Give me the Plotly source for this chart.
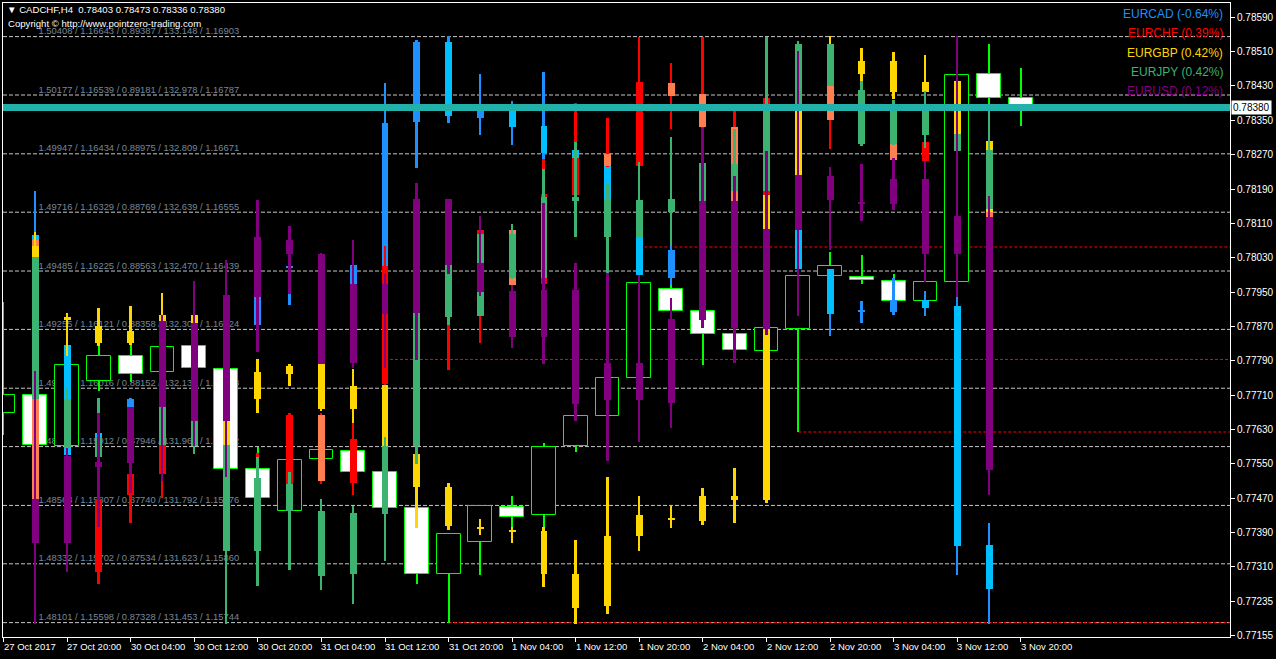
import numpy as np
import plotly.graph_objects as go

# ---------------- data ----------------
SYMBOL = "CADCHF,H4"
COPYRIGHT = "Copyright \u00a9 http://www.pointzero-trading.com"

BARS = list(range(33))  # H4 bars, 27 Oct 12:00 .. 3 Nov 20:00
TIME_LABEL_BARS = [0, 2, 4, 6, 8, 10, 12, 14, 16, 18, 20, 22, 24, 26, 28, 30, 32]
TIME_LABELS = ["27 Oct 2017", "27 Oct 20:00", "30 Oct 04:00", "30 Oct 12:00", "30 Oct 20:00",
               "31 Oct 04:00", "31 Oct 12:00", "31 Oct 20:00", "1 Nov 04:00", "1 Nov 12:00",
               "1 Nov 20:00", "2 Nov 04:00", "2 Nov 12:00", "2 Nov 20:00", "3 Nov 04:00",
               "3 Nov 12:00", "3 Nov 20:00"]

CADCHF_OPEN = [0.77669, 0.77711, 0.77591, 0.77743, 0.77802, 0.77763, 0.77825, 0.77771, 0.77538, 0.77440,
               0.77560, 0.77580, 0.77530, 0.77446, 0.77294, 0.77368, 0.77449, 0.77430, 0.77591, 0.77662,
               0.77750, 0.77956, 0.77907, 0.77852, 0.77813, 0.77864, 0.77987, 0.77984, 0.77976, 0.77929,
               0.77973, 0.78457, 0.78403]
CADCHF_HIGH = [0.77926, 0.77714, 0.77782, 0.77828, 0.77828, 0.77823, 0.77827, 0.77772, 0.77588, 0.77559,
               0.77584, 0.77581, 0.77531, 0.77448, 0.77387, 0.77452, 0.77474, 0.77598, 0.77663, 0.77751,
               0.77973, 0.77967, 0.77908, 0.77853, 0.77867, 0.77988, 0.78044, 0.78037, 0.77992, 0.77976,
               0.78456, 0.78528, 0.78473]
CADCHF_LOW = [0.77617, 0.77591, 0.77590, 0.77719, 0.77740, 0.77760, 0.77770, 0.77537, 0.77469, 0.77438,
              0.77558, 0.77530, 0.77445, 0.77270, 0.77180, 0.77291, 0.77394, 0.77402, 0.77577, 0.77660,
              0.77749, 0.77906, 0.77780, 0.77784, 0.77813, 0.77624, 0.77986, 0.77968, 0.77929, 0.77928,
              0.77972, 0.78379, 0.78336]
CADCHF_CLOSE = [0.77711, 0.77593, 0.77780, 0.77802, 0.77759, 0.77821, 0.77772, 0.77539, 0.77470, 0.77558,
                0.77581, 0.77532, 0.77446, 0.77294, 0.77386, 0.77451, 0.77427, 0.77588, 0.77662, 0.77750,
                0.77972, 0.77907, 0.77852, 0.77816, 0.77867, 0.77987, 0.78011, 0.77978, 0.77930, 0.77974,
                0.78455, 0.78402, 0.78380]

N = None
EURCAD_OPEN = [N, 1.49628, 1.49195, 1.48849, 1.48818, 1.49014, 1.48975, 1.49290, 1.49272, 1.49498, 1.49368,
               1.49368, 1.49505, 1.50070, 1.50387, 1.50088, 1.50139, 1.50058, 1.49962, 1.49919, 1.49620,
               1.49456, 1.49604, 1.49565, 1.50037, 1.49761, 1.49492, 1.49327, 1.49325, 1.49372, 1.49349,
               1.48405, N]
EURCAD_HIGH = [N, 1.49801, 1.49199, 1.48853, 1.48987, 1.49231, 1.49191, 1.49329, 1.49525, 1.49525, 1.49408,
               1.49510, 1.50227, 1.50395, 1.50411, 1.50259, 1.50154, 1.50267, 1.49966, 1.49938, 1.49643,
               1.49601, 1.49643, 1.49604, 1.50076, 1.49781, 1.49492, 1.49368, 1.49456, 1.49408, 1.49384,
               1.48494, N]
EURCAD_LOW = [N, 1.49290, 1.48755, 1.48771, 1.48798, 1.48995, 1.48955, 1.48936, 1.49272, 1.49353, 1.49172,
              1.49349, 1.49494, 1.49890, 1.50066, 1.50021, 1.49983, 1.49925, 1.49820, 1.49683, 1.49469,
              1.49429, 1.49408, 1.49329, 1.49840, 1.49492, 1.49229, 1.49280, 1.49312, 1.49309, 1.48288,
              1.48096, N]
EURCAD_CLOSE = [N, 1.49368, 1.48759, 1.48779, 1.48983, 1.49211, 1.49172, 1.48975, 1.49486, 1.49502, 1.49211,
                1.49508, 1.50066, 1.50387, 1.50094, 1.50139, 1.50053, 1.49949, 1.49840, 1.49702, 1.49469,
                1.49569, 1.49447, 1.49368, 1.49879, 1.49492, 1.49315, 1.49330, 1.49372, 1.49341, 1.48402,
                1.48234, N]

EURCHF_OPEN = [N, 1.16281, 1.15762, 1.15689, 1.15826, 1.15863, 1.15994, 1.15943, 1.15744, 1.15845, 1.15969,
               1.15847, 1.16023, 1.15958, 1.16154, 1.16172, 1.16298, 1.16201, 1.16361, 1.16434, 1.16413,
               1.16561, 1.16541, 1.16481, 1.16361, 1.16599, 1.16555, 1.16528, 1.16493, 1.16421, 1.16546,
               1.16439, N]
EURCHF_HIGH = [N, 1.16282, 1.15883, 1.15821, 1.15869, 1.15923, 1.16092, 1.15944, 1.15901, 1.15971, 1.15971,
               1.15954, 1.16270, 1.16136, 1.16229, 1.16298, 1.16298, 1.16424, 1.16525, 1.16498, 1.16642,
               1.16596, 1.16642, 1.16514, 1.16535, 1.16608, 1.16555, 1.16537, 1.16507, 1.16457, 1.16555,
               1.16448, N]
EURCHF_LOW = [N, 1.15816, 1.15688, 1.15667, 1.15776, 1.15821, 1.15985, 1.15762, 1.15735, 1.15834, 1.15845,
              1.15826, 1.16022, 1.15940, 1.16048, 1.16097, 1.16199, 1.16200, 1.16359, 1.16411, 1.16412,
              1.16479, 1.16480, 1.16348, 1.16359, 1.16421, 1.16443, 1.16460, 1.16421, 1.16420, 1.16448,
              1.16320, N]
EURCHF_CLOSE = [N, 1.15818, 1.15878, 1.15819, 1.15863, 1.15915, 1.16083, 1.15780, 1.15851, 1.15969, 1.15850,
                1.15925, 1.16234, 1.16118, 1.16225, 1.16298, 1.16200, 1.16362, 1.16427, 1.16412, 1.16562,
                1.16538, 1.16481, 1.16349, 1.16533, 1.16439, 1.16494, 1.16475, 1.16423, 1.16455, 1.16457,
                1.16321, N]

EURGBP_OPEN = [N, 0.88652, 0.88402, 0.88369, 0.88354, 0.88410, 0.88410, 0.88037, 0.88207, 0.88230, 0.88238,
               0.88161, 0.88163, 0.87919, 0.87667, 0.87662, 0.87652, 0.87500, 0.87379, 0.87386, 0.87633,
               0.87693, 0.87686, 0.87758, 0.87758, 0.88845, 0.89231, 0.89257, 0.89300, 0.89194, 0.89046,
               0.89020, N]
EURGBP_HIGH = [N, 0.88700, 0.88417, 0.88435, 0.88442, 0.88487, 0.88494, 0.88038, 0.88254, 0.88235, 0.88242,
               0.88218, 0.88164, 0.87919, 0.87819, 0.87691, 0.87665, 0.87665, 0.87619, 0.87839, 0.87772,
               0.87739, 0.87800, 0.87872, 0.88831, 0.89161, 0.89390, 0.89347, 0.89333, 0.89322, 0.89234,
               0.89024, N]
EURGBP_LOW = [N, 0.88319, 0.88266, 0.88301, 0.88305, 0.88319, 0.88319, 0.87828, 0.88063, 0.88159, 0.88070,
              0.88030, 0.87947, 0.87662, 0.87653, 0.87636, 0.87607, 0.87454, 0.87324, 0.87357, 0.87579,
              0.87660, 0.87672, 0.87679, 0.87747, 0.88838, 0.89224, 0.89232, 0.89168, 0.89189, 0.89020,
              0.88768, N]
EURGBP_CLOSE = [N, 0.88354, 0.88390, 0.88312, 0.88312, 0.88354, 0.88354, 0.87863, 0.88112, 0.88201, 0.88080,
                0.88080, 0.87950, 0.87805, 0.87805, 0.87658, 0.87648, 0.87650, 0.87500, 0.87631, 0.87705,
                0.87690, 0.87772, 0.87772, 0.88831, 0.89128, 0.89354, 0.89300, 0.89194, 0.89228, 0.89231,
                0.88770, N]

EURJPY_OPEN = [N, 132.511, 132.101, 131.991, 132.038, 132.078, 132.036, 131.968, 131.659, 131.854, 131.775,
               131.594, 131.768, 131.963, 132.337, 132.341, 132.576, 132.449, 132.684, 132.676, 132.569,
               132.679, 132.671, 132.779, 132.702, 132.935, 133.127, 132.993, 132.836, 132.939, 132.867,
               132.820, N]
EURJPY_HIGH = [N, 132.511, 132.133, 132.104, 132.052, 132.078, 132.037, 131.968, 131.931, 131.889, 131.812,
               131.791, 131.991, 132.349, 132.487, 132.576, 132.607, 132.765, 132.842, 132.722, 132.786,
               132.858, 132.782, 132.881, 133.147, 133.135, 133.127, 133.021, 132.965, 132.991, 132.867,
               132.942, N]
EURJPY_LOW = [N, 132.101, 131.960, 131.928, 131.937, 131.968, 131.942, 131.449, 131.559, 131.606, 131.547,
              131.506, 131.630, 131.913, 132.313, 132.341, 132.448, 132.448, 132.569, 132.463, 132.569,
              132.543, 132.671, 132.702, 132.702, 132.935, 133.005, 132.832, 132.835, 132.826, 132.818,
              132.650, N]
EURJPY_CLOSE = [N, 132.101, 131.960, 131.931, 131.951, 131.968, 131.965, 131.659, 131.871, 131.775, 131.588,
                131.769, 131.965, 132.349, 132.487, 132.576, 132.449, 132.684, 132.673, 132.569, 132.676,
                132.640, 132.782, 132.702, 132.935, 133.127, 133.005, 132.836, 132.939, 132.864, 132.818,
                132.650, N]

EURUSD_OPEN = [N, 1.15988, 1.15901, 1.16061, 1.16059, 1.16171, 1.16336, 1.16143, 1.16389, 1.16501, 1.16473,
               1.16257, 1.16414, 1.16357, 1.16582, 1.16456, 1.16399, 1.16308, 1.16402, 1.16185, 1.16257,
               1.16179, 1.16343, 1.16577, 1.16324, 1.16520, 1.16627, 1.16575, 1.16572, 1.16622, 1.16473,
               1.16546, N]
EURUSD_HIGH = [N, 1.16241, 1.16090, 1.16159, 1.16171, 1.16353, 1.16420, 1.16462, 1.16580, 1.16529, 1.16476,
               1.16501, 1.16433, 1.16613, 1.16582, 1.16548, 1.16411, 1.16574, 1.16456, 1.16435, 1.16431,
               1.16387, 1.16723, 1.16627, 1.16677, 1.16875, 1.16645, 1.16651, 1.16663, 1.16657, 1.16905,
               1.16588, N]
EURUSD_LOW = [N, 1.15741, 1.15845, 1.15933, 1.16001, 1.16025, 1.16094, 1.16032, 1.16280, 1.16394, 1.16256,
              1.16248, 1.16248, 1.16264, 1.16433, 1.16390, 1.16288, 1.16256, 1.16143, 1.16063, 1.16101,
              1.16128, 1.16326, 1.16257, 1.16313, 1.16351, 1.16480, 1.16538, 1.16560, 1.16417, 1.16389,
              1.15997, N]
EURUSD_CLOSE = [N, 1.15901, 1.16074, 1.16052, 1.16171, 1.16341, 1.16143, 1.16392, 1.16506, 1.16473, 1.16256,
                1.16413, 1.16354, 1.16582, 1.16451, 1.16397, 1.16308, 1.16402, 1.16177, 1.16257, 1.16185,
                1.16344, 1.16577, 1.16327, 1.16523, 1.16630, 1.16580, 1.16573, 1.16622, 1.16473, 1.16548,
                1.16045, N]

# indicator grid: CADCHF level of each line and the pair values written on it
GRID_CADCHF = [0.78545, 0.78409, 0.78272, 0.78136, 0.77999, 0.77863, 0.77726, 0.77590, 0.77453, 0.77317, 0.77180]
EURCAD_GRID = [1.50408, 1.50177, 1.49947, 1.49716, 1.49485, 1.49255, 1.49024, 1.48793, 1.48563, 1.48332, 1.48101]
EURCHF_GRID = [1.16643, 1.16539, 1.16434, 1.16329, 1.16225, 1.16121, 1.16016, 1.15912, 1.15807, 1.15702, 1.15598]
EURGBP_GRID = [0.89387, 0.89181, 0.88975, 0.88769, 0.88563, 0.88358, 0.88152, 0.87946, 0.87740, 0.87534, 0.87328]
EURJPY_GRID = [133.148, 132.978, 132.809, 132.639, 132.470, 132.300, 132.131, 131.961, 131.792, 131.623, 131.453]
EURUSD_GRID = [1.16903, 1.16787, 1.16671, 1.16555, 1.16439, 1.16324, 1.16208, 1.16092, 1.15976, 1.15860, 1.15744]

PAIR_NAMES = ["EURCAD", "EURCHF", "EURGBP", "EURJPY", "EURUSD"]
PAIR_CHANGE_PCT = [-0.64, 0.39, 0.42, 0.42, 0.12]
PAIR_COLORS = ["#1E90FF", "#FF0000", "#FFD700", "#3CB371", "#800080"]
PAIR_DOWN_COLORS = ["#00BFFF", "#FF7F50", "#FFD700", "#3CB371", "#800080"]

PRICE_TICK_VALUES = [0.78590, 0.78510, 0.78430, 0.78350, 0.78270, 0.78190, 0.78110, 0.78030, 0.77950,
                     0.77870, 0.77790, 0.77710, 0.77630, 0.77550, 0.77470, 0.77390, 0.77310, 0.77230, 0.77150]
PRICE_TICK_TEXT = ["0.78590", "0.78510", "0.78430", "0.78350", "0.78270", "0.78190", "0.78110", "0.78030",
                   "0.77950", "0.77870", "0.77790", "0.77710", "0.77630", "0.77550", "0.77470", "0.77390",
                   "0.77310", "0.77235", "0.77155"]

RED_LEVEL_BARS = [12, 14, 20, 25]
RED_LEVEL_PRICES = [0.77793, 0.77180, 0.78055, 0.77624]

# ---------------- layout constants ----------------
X_RANGE = [-0.0156, 38.578]
Y_RANGE = [0.771465, 0.786233]
BAR_PX = 32.0
MIN_H = 0.00003
ARIAL = "Liberation Sans, Arial, sans-serif"


def to_chart(values, grid):
    g0, g1 = grid[0], grid[-1]
    c0, c1 = GRID_CADCHF[0], GRID_CADCHF[-1]
    return [None if v is None else c0 + (v - g0) * (c1 - c0) / (g1 - g0) for v in values]


def candle_traces(o, h, l, c, body_w, wick_w, up_col, dn_col, wick_col, outline=None):
    xs = [k for k in BARS if o[k] is not None]
    wick = go.Bar(
        x=xs, base=[l[k] for k in xs], y=[max(h[k] - l[k], MIN_H) for k in xs],
        width=wick_w, marker=dict(color=wick_col, line=dict(width=0)),
        xaxis="x2", yaxis="y2", hoverinfo="skip", showlegend=False)
    body = go.Bar(
        x=xs, base=[min(o[k], c[k]) for k in xs],
        y=[max(abs(c[k] - o[k]), MIN_H) for k in xs], width=body_w,
        marker=dict(color=[up_col if c[k] >= o[k] else dn_col for k in xs],
                    line=dict(width=1 if outline else 0, color=outline or "rgba(0,0,0,0)")),
        xaxis="x2", yaxis="y2", hoverinfo="skip", showlegend=False)
    return [wick, body]


fig = go.Figure()

# indicator grid labels (drawn under the candles)
label_rows = list(zip(EURCAD_GRID, EURCHF_GRID, EURGBP_GRID, EURJPY_GRID, EURUSD_GRID))
grid_texts = [f"{a:.5f} / {b:.5f} / {cc:.5f} / {d:.3f} / {e:.5f}" for a, b, cc, d, e in label_rows]
fig.add_trace(go.Scatter(
    x=[1.1] * len(GRID_CADCHF), y=GRID_CADCHF, mode="text", text=grid_texts,
    textposition="top right", textfont=dict(family=ARIAL, size=9.4, color="#778899"),
    hoverinfo="skip", showlegend=False, xaxis="x", yaxis="y"))

# CADCHF candles
for t in candle_traces(CADCHF_OPEN, CADCHF_HIGH, CADCHF_LOW, CADCHF_CLOSE,
                       24 / BAR_PX, 1 / BAR_PX, "#000000", "#FFFFFF", "#00FF00", outline="#00FF00"):
    fig.add_trace(t)

# overlay pairs
pair_data = [
    (EURCAD_OPEN, EURCAD_HIGH, EURCAD_LOW, EURCAD_CLOSE, EURCAD_GRID),
    (EURCHF_OPEN, EURCHF_HIGH, EURCHF_LOW, EURCHF_CLOSE, EURCHF_GRID),
    (EURGBP_OPEN, EURGBP_HIGH, EURGBP_LOW, EURGBP_CLOSE, EURGBP_GRID),
    (EURJPY_OPEN, EURJPY_HIGH, EURJPY_LOW, EURJPY_CLOSE, EURJPY_GRID),
    (EURUSD_OPEN, EURUSD_HIGH, EURUSD_LOW, EURUSD_CLOSE, EURUSD_GRID),
]
for i, (o, h, l, c, g) in enumerate(pair_data):
    for t in candle_traces(to_chart(o, g), to_chart(h, g), to_chart(l, g), to_chart(c, g),
                           7 / BAR_PX, 2 / BAR_PX, PAIR_COLORS[i], PAIR_DOWN_COLORS[i], PAIR_COLORS[i]):
        fig.add_trace(t)

# current price line
last = CADCHF_CLOSE[-1]
fig.add_trace(go.Scatter(x=X_RANGE, y=[last, last], mode="lines", line=dict(color="#20B2AA", width=7),
                         xaxis="x2", yaxis="y2", hoverinfo="skip", showlegend=False))
fig.add_trace(go.Scatter(x=X_RANGE, y=[last, last], mode="lines", line=dict(color="#6f8f96", width=1),
                         xaxis="x2", yaxis="y2", hoverinfo="skip", showlegend=False))

shapes = []
for lvl in GRID_CADCHF:
    shapes.append(dict(type="line", xref="paper", x0=0, x1=1, yref="y", y0=lvl, y1=lvl, layer="below",
                       line=dict(color="#C8C8C8", width=1, dash="4px,2px")))
for b, p in zip(RED_LEVEL_BARS, RED_LEVEL_PRICES):
    shapes.append(dict(type="line", xref="x", x0=b, x1=X_RANGE[1], yref="y", y0=p, y1=p, layer="below",
                       line=dict(color="#FF0000", width=1, dash="3px,2px")))

annotations = []
for b, txt in zip(TIME_LABEL_BARS, TIME_LABELS):
    annotations.append(dict(x=b, xref="x", y=0, yref="paper", yanchor="top", xanchor="left",
                            xshift=-2, yshift=-2, text=txt, showarrow=False,
                            font=dict(family=ARIAL, size=9.5, color="white")))
title = "\u25bc " + SYMBOL + "  " + " ".join(
    f"{v:.5f}" for v in (CADCHF_OPEN[-1], CADCHF_HIGH[-1], CADCHF_LOW[-1], CADCHF_CLOSE[-1]))
annotations.append(dict(x=0, xref="paper", y=1, yref="paper", xanchor="left", yanchor="top",
                        xshift=2, yshift=1, text=title, showarrow=False,
                        font=dict(family=ARIAL, size=9.6, color="white")))
annotations.append(dict(x=0, xref="paper", y=1, yref="paper", xanchor="left", yanchor="top",
                        xshift=3, yshift=-13, text=COPYRIGHT, showarrow=False,
                        font=dict(family=ARIAL, size=9.6, color="white")))
for i, (name, pct) in enumerate(zip(PAIR_NAMES, PAIR_CHANGE_PCT)):
    annotations.append(dict(x=1, xref="paper", y=1, yref="paper", xanchor="right", yanchor="top",
                            xshift=-5, yshift=-2 - 19.3 * i, text=f"{name} ({pct:.2f}%)", showarrow=False,
                            font=dict(family=ARIAL, size=12, color=PAIR_COLORS[i])))
annotations.append(dict(x=1, xref="paper", y=last, yref="y", xanchor="left", yanchor="middle",
                        xshift=1, text=f"{last:.5f}", showarrow=False, bgcolor="white", borderpad=1,
                        font=dict(family=ARIAL, size=10, color="black")))

fig.update_layout(
    width=1276, height=659, margin=dict(l=3, r=38, t=2, b=22),
    paper_bgcolor="black", plot_bgcolor="black", barmode="overlay", bargap=0,
    showlegend=False, shapes=shapes, annotations=annotations,
    xaxis=dict(range=X_RANGE, tickvals=TIME_LABEL_BARS, showticklabels=False, ticks="outside",
               ticklen=4, tickcolor="white", showline=True, linecolor="white", linewidth=1,
               mirror=True, showgrid=False, zeroline=False, fixedrange=True),
    yaxis=dict(range=Y_RANGE, side="right", tickvals=PRICE_TICK_VALUES, ticktext=PRICE_TICK_TEXT,
               ticks="outside", ticklen=4, tickcolor="white", showline=True, linecolor="white",
               linewidth=1, mirror=True, showgrid=False, zeroline=False,
               tickfont=dict(family=ARIAL, size=10, color="white"), fixedrange=True),
    xaxis2=dict(range=X_RANGE, overlaying="x", visible=False, fixedrange=True),
    yaxis2=dict(range=Y_RANGE, overlaying="y", visible=False, fixedrange=True),
)

fig.write_html("out.html", config={"displayModeBar": False},
               post_script="document.body.style.margin='0px';")
